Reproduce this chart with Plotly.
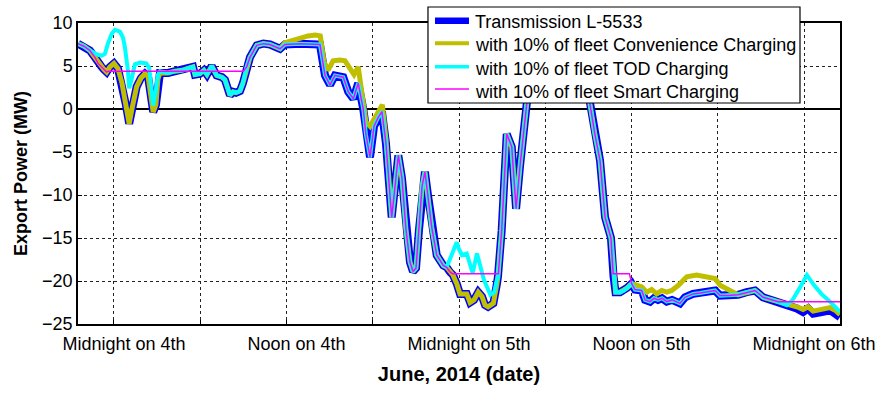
import pandas as pd
import plotly.graph_objects as go

# Hours after midnight on 4 June 2014, and measured export power on line L-5533 (MW)
base_hours = [
    -2.50, -2.09, -1.67, -1.32, -1.11, -0.86, -0.70, -0.51, -0.28, 0.00,
    0.28, 0.56, 0.83, 1.06, 1.25, 1.58, 1.88, 2.16, 2.37, 2.54,
    2.73, 2.92, 3.06, 3.20, 3.76, 4.24, 4.73, 5.29, 5.50, 5.63,
    5.98, 6.26, 6.47, 6.80, 7.14, 7.51, 7.72, 8.07, 8.28, 8.49,
    8.77, 8.97, 9.23, 9.46, 9.93, 10.39, 10.85, 11.32, 11.55, 11.90,
    12.94, 14.33, 14.68, 15.03, 15.37, 15.95, 16.30, 16.65, 16.99, 17.34,
    17.53, 17.81, 18.09, 18.37, 18.64, 18.92, 19.32, 19.55, 19.78, 20.03,
    20.31, 20.59, 20.80, 21.01, 21.22, 21.43, 21.63, 21.84, 22.10, 22.45,
    22.91, 23.14, 23.37, 23.58, 23.84, 24.07, 24.54, 24.77, 25.04, 25.34,
    25.60, 25.81, 26.02, 26.39, 26.62, 26.71, 26.97, 27.32, 27.67, 27.97,
    28.24, 28.71, 29.08, 29.63, 30.68, 32.07, 32.77, 33.11, 33.46, 33.81,
    34.16, 34.57, 34.75, 34.89, 35.20, 35.48, 35.69, 36.01, 36.24, 36.71,
    36.94, 37.29, 37.57, 37.84, 38.12, 38.45, 38.82, 39.37, 39.72, 40.28,
    40.77, 41.23, 41.81, 42.16, 42.71, 43.41, 44.01, 44.59, 45.15, 45.84,
    46.80, 47.49, 47.93, 48.28, 48.63, 49.23, 49.81, 50.16, 50.50,
]
base_mw = [
    7.6, 7.3, 6.8, 6.0, 5.3, 4.9, 4.6, 4.3, 4.9, 5.3,
    4.7, 3.0, 0.5, -1.7, 0.0, 2.6, 3.6, 4.1, 3.8, 1.5,
    -0.35, 0.5, 3.5, 4.2, 4.2, 4.4, 4.5, 4.8, 4.9, 4.0,
    4.1, 4.5, 4.0, 5.0, 3.9, 3.7, 3.4, 1.6, 2.0, 1.9,
    2.1, 3.0, 4.9, 6.0, 7.4, 7.6, 7.5, 7.2, 7.0, 7.5,
    7.6, 7.5, 3.9, 2.8, 3.9, 3.7, 2.0, 1.2, 3.0, 0.0,
    -3.0, -5.6, -2.0, -1.0, -0.3, -4.0, -12.6, -9.0, -5.4, -8.0,
    -14.0, -17.8, -18.9, -18.5, -14.0, -9.0, -7.3, -10.0, -13.7, -17.0,
    -18.2, -18.4, -18.95, -19.3, -20.3, -21.5, -21.5, -22.5, -22.2, -21.3,
    -21.8, -22.8, -23.0, -22.6, -20.5, -19.5, -14.1, -2.9, -4.4, -11.6,
    -6.7, 0.6, 4.0, 7.0, 8.0, 8.0, 4.0, 0.4, -3.0, -6.0,
    -12.6, -15.0, -19.5, -21.3, -21.3, -21.1, -20.8, -20.3, -21.0, -21.1,
    -22.2, -22.4, -22.0, -22.2, -22.0, -22.4, -22.2, -22.6, -21.9, -21.5,
    -21.4, -21.3, -21.1, -21.7, -21.7, -21.6, -21.3, -21.1, -21.9, -22.2,
    -22.8, -23.2, -23.6, -23.2, -23.8, -23.6, -23.4, -23.8, -24.2,
]

# Periods where each charging scenario departs from the measured line
conv_windows = [
    ([11.55, 11.90, 12.50, 13.00, 13.50, 14.00, 14.35, 14.61, 14.89, 15.24,
      15.72, 16.07, 16.42, 16.70, 16.99, 17.34, 17.53, 17.81, 18.16, 18.44,
      18.67, 18.92],
     [7.0, 7.7, 8.0, 8.3, 8.5, 8.6, 8.5, 5.5, 4.5, 5.6,
      5.7, 5.6, 4.8, 4.0, 4.9, 1.0, -1.5, -2.0, -1.0, 0.0,
      0.5, -3.5]),
    ([36.01, 36.36, 36.71, 37.06, 37.40, 37.75, 38.10, 38.45, 38.80, 39.26,
      39.84, 40.53, 41.23, 41.81, 42.16, 42.74, 43.07, 43.41],
     [-20.3, -20.5, -20.7, -21.3, -21.0, -21.5, -21.1, -21.3, -21.1, -20.5,
      -19.5, -19.3, -19.5, -19.7, -20.5, -21.1, -21.3, -21.6]),
    ([46.80, 47.49, 47.93, 48.28, 48.63, 49.23, 49.81, 50.16, 50.50],
     [-22.7, -23.0, -23.3, -23.0, -23.5, -23.3, -23.1, -23.4, -23.9]),
]
tod_windows = [
    ([-1.67, -1.32, -1.11, -0.86, -0.63, -0.42, -0.14, 0.07, 0.42, 0.63,
      0.76, 0.97, 1.06, 1.25, 1.46, 1.81, 2.25, 2.45, 2.60, 2.73,
      2.90, 3.06, 3.20],
     [6.8, 6.4, 6.3, 6.2, 6.4, 7.6, 8.8, 9.2, 9.0, 8.3,
      7.2, 4.5, 2.4, 3.6, 5.2, 5.4, 5.3, 4.8, 2.5, 0.4,
      2.0, 4.0, 4.4]),
    ([23.14, 23.37, 23.58, 23.84, 24.00, 24.20, 24.54, 24.77, 24.95, 25.25,
      25.50, 25.74, 26.18, 26.45, 26.62, 26.71],
     [-18.4, -17.5, -16.5, -15.5, -16.3, -17.0, -16.8, -18.0, -19.1, -16.8,
      -18.5, -19.9, -21.6, -21.3, -20.0, -19.5]),
    ([46.80, 47.20, 47.70, 48.20, 48.70, 49.20, 49.81, 50.16, 50.50],
     [-22.8, -22.2, -20.8, -19.3, -20.5, -21.5, -22.4, -23.0, -23.6]),
]
smart_windows = [
    ([-0.51, -0.40, 9.00], [4.3, 4.4, 4.4]),
    ([23.55, 26.74], [-19.15, -19.15]),
    ([34.72, 35.85, 36.01], [-19.15, -19.15, -20.3]),
    ([46.20, 50.50], [-22.4, -22.4]),
]

tick_hours = [0, 6, 12, 18, 24, 30, 36, 42, 48]
tick_text = ["Midnight on 4th", "", "Noon on 4th", "", "Midnight on 5th", "",
             "Noon on 5th", "", "Midnight on 6th"]

START = pd.Timestamp("2014-06-04 00:00")


def to_time(hours):
    return [START + pd.Timedelta(hours=h) for h in hours]


def with_windows(hours, values, windows):
    """Replace stretches of the measured series with a scenario's own readings."""
    pts = list(zip(hours, values))
    for wh, wv in windows:
        lo, hi = wh[0], wh[-1]
        pts = [p for p in pts if p[0] < lo or p[0] > hi] + list(zip(wh, wv))
        pts.sort(key=lambda p: p[0])
    return [p[0] for p in pts], [p[1] for p in pts]


series = [
    ("Transmission L-5533", base_hours, base_mw, "#0000FF", 8),
    ("with 10% of fleet Convenience Charging",
     *with_windows(base_hours, base_mw, conv_windows), "#BFBF00", 5),
    ("with 10% of fleet TOD Charging",
     *with_windows(base_hours, base_mw, tod_windows), "#00FFFF", 4),
    ("with 10% of fleet Smart Charging",
     *with_windows(base_hours, base_mw, smart_windows), "#FF00FF", 1.5),
]

fig = go.Figure()
for name, hrs, mw, color, width in series:
    fig.add_trace(go.Scatter(
        x=to_time(hrs), y=mw, name=name, mode="lines",
        line=dict(color=color, width=width), showlegend=False,
    ))

# Boxed key in the upper right, drawn over the plot area (paper coordinates)
box = dict(x0=0.4593, x1=0.9475, y0=0.7342, y1=1.0532)
key_line_x = (0.4685, 0.5131)
key_text_x = 0.5184
key_rows_y = [1.0076, 0.9326, 0.8548, 0.7807]
key_text_y = [1.0043, 0.9269, 0.8472, 0.7717]
key_widths = [6.5, 4, 3.5, 1.5]

shapes = [dict(type="rect", xref="paper", yref="paper", layer="above",
               fillcolor="white", line=dict(color="black", width=1.2), **box)]
annotations = []
for (name, _, _, color, _), lw, ly, ty in zip(series, key_widths, key_rows_y, key_text_y):
    shapes.append(dict(type="line", xref="paper", yref="paper", layer="above",
                       x0=key_line_x[0], x1=key_line_x[1], y0=ly, y1=ly,
                       line=dict(color=color, width=lw)))
    annotations.append(dict(text=name, xref="paper", yref="paper",
                            x=key_text_x, y=ty, xanchor="left", yanchor="middle",
                            showarrow=False, font=dict(size=18, color="black")))

font_family = "Liberation Sans, Arial, Helvetica, sans-serif"
grid = dict(showgrid=True, gridcolor="#222222", gridwidth=1, griddash="3px,3px")

fig.update_layout(
    width=880, height=393,
    margin=dict(l=78, r=40, t=23, b=69),
    paper_bgcolor="white", plot_bgcolor="white",
    font=dict(family=font_family, size=18, color="black"),
    showlegend=False,
    shapes=shapes,
    annotations=annotations,
    xaxis=dict(
        range=to_time([-2.5, 50.5]),
        tickvals=to_time(tick_hours), ticktext=tick_text,
        ticklabelshift=10, ticklabelstandoff=3,
        ticks="inside", ticklen=4, tickcolor="black",
        showline=True, linecolor="black", linewidth=1.5, mirror=True,
        automargin=False,
        title=dict(text="<b>June, 2014 (date)</b>", font=dict(size=20), standoff=14),
        **grid,
    ),
    yaxis=dict(
        range=[-25, 10], tickvals=[-25, -20, -15, -10, -5, 0, 5, 10],
        ticks="inside", ticklen=4, tickcolor="black",
        showline=True, linecolor="black", linewidth=1.5, mirror=True,
        zeroline=True, zerolinecolor="black", zerolinewidth=1.5,
        automargin=False,
        title=dict(text="<b>Export Power (MW)</b>", font=dict(size=18), standoff=10),
        **grid,
    ),
)

fig.write_html("out.html")
